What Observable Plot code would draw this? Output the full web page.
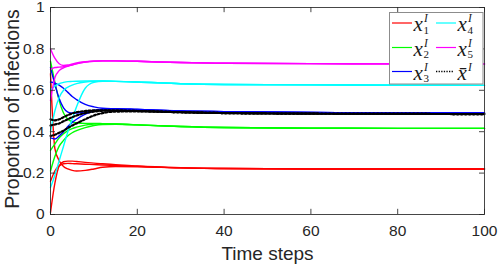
<!DOCTYPE html>
<html>
<head>
<meta charset="utf-8">
<script src="https://cdn.jsdelivr.net/npm/d3@7"></script>
<script src="https://cdn.jsdelivr.net/npm/@observablehq/plot@0.6"></script>
<style>
  html, body { margin: 0; padding: 0; background: #fff; }
  #wrap { position: relative; width: 499px; height: 265px; }
  #legend { position: absolute; left: 0; top: 0; pointer-events: none; }
</style>
</head>
<body>
<div id="wrap"></div>
<script>
// ---- data ----
const timeSteps = [0, 1, 2, 3, 4, 5, 6, 8, 10, 12, 15, 20, 30, 40, 60, 80, 100];

const red1 = [0.01, 0.15, 0.235, 0.255, 0.258, 0.258, 0.256, 0.252, 0.248, 0.245, 0.241, 0.234, 0.226, 0.222, 0.220, 0.220, 0.220];
const red2 = [0.68, 0.32, 0.26, 0.232, 0.220, 0.213, 0.210, 0.213, 0.220, 0.228, 0.232, 0.231, 0.225, 0.222, 0.220, 0.220, 0.220];
const red3 = [0.16, 0.21, 0.235, 0.245, 0.247, 0.246, 0.245, 0.243, 0.241, 0.239, 0.237, 0.233, 0.225, 0.222, 0.220, 0.220, 0.220];

const green1 = [0.74, 0.64, 0.55, 0.49, 0.46, 0.448, 0.442, 0.440, 0.440, 0.439, 0.437, 0.433, 0.425, 0.420, 0.417, 0.416, 0.416];
const green2 = [0.31, 0.34, 0.37, 0.39, 0.405, 0.415, 0.422, 0.432, 0.437, 0.439, 0.437, 0.433, 0.425, 0.420, 0.417, 0.416, 0.416];
const green3 = [0.21, 0.28, 0.33, 0.358, 0.38, 0.395, 0.405, 0.420, 0.430, 0.435, 0.436, 0.433, 0.425, 0.420, 0.417, 0.416, 0.416];

const blue1 = [0.71, 0.63, 0.56, 0.515, 0.495, 0.490, 0.490, 0.496, 0.503, 0.508, 0.510, 0.507, 0.500, 0.497, 0.493, 0.491, 0.490];
const blue2 = [0.64, 0.635, 0.625, 0.61, 0.59, 0.57, 0.555, 0.532, 0.520, 0.513, 0.511, 0.507, 0.500, 0.497, 0.493, 0.491, 0.490];
const blue3 = [0.37, 0.365, 0.38, 0.40, 0.425, 0.445, 0.460, 0.485, 0.500, 0.507, 0.510, 0.507, 0.500, 0.497, 0.493, 0.491, 0.490];

const cyan1 = [0.13, 0.19, 0.26, 0.33, 0.40, 0.46, 0.52, 0.61, 0.638, 0.643, 0.643, 0.640, 0.632, 0.628, 0.626, 0.625, 0.624];
const cyan2 = [0.40, 0.50, 0.565, 0.60, 0.615, 0.625, 0.632, 0.640, 0.644, 0.645, 0.643, 0.640, 0.632, 0.628, 0.626, 0.625, 0.624];
const cyan3 = [0.60, 0.62, 0.632, 0.638, 0.642, 0.643, 0.644, 0.645, 0.645, 0.645, 0.643, 0.640, 0.632, 0.628, 0.626, 0.625, 0.624];

const magenta1 = [0.80, 0.755, 0.728, 0.720, 0.722, 0.727, 0.732, 0.738, 0.741, 0.742, 0.742, 0.740, 0.734, 0.731, 0.729, 0.728, 0.727];
const magenta2 = [0.55, 0.66, 0.695, 0.708, 0.716, 0.722, 0.728, 0.736, 0.740, 0.742, 0.742, 0.740, 0.734, 0.731, 0.729, 0.728, 0.727];
const magenta3 = [0.70, 0.71, 0.712, 0.714, 0.718, 0.723, 0.729, 0.737, 0.741, 0.742, 0.742, 0.740, 0.734, 0.731, 0.729, 0.728, 0.727];

const mean1 = [0.46, 0.455, 0.46, 0.47, 0.48, 0.488, 0.494, 0.500, 0.503, 0.503, 0.502, 0.500, 0.494, 0.490, 0.487, 0.486, 0.485];
const mean2 = [0.43, 0.435, 0.44, 0.45, 0.46, 0.47, 0.478, 0.490, 0.497, 0.501, 0.502, 0.500, 0.494, 0.490, 0.487, 0.486, 0.485];
const mean3 = [0.38, 0.385, 0.395, 0.405, 0.418, 0.43, 0.44, 0.46, 0.478, 0.490, 0.497, 0.498, 0.494, 0.490, 0.487, 0.486, 0.485];

const seriesKeys = ["x1", "x2", "x3", "x4", "x5", "xbar"];
const seriesRuns = [
  [red1, red2, red3],
  [green1, green2, green3],
  [blue1, blue2, blue3],
  [cyan1, cyan2, cyan3],
  [magenta1, magenta2, magenta3],
  [mean1, mean2, mean3]
];
const seriesColors = ["#ff0000", "#00ff00", "#0000ff", "#00ffff", "#ff00ff", "#000000"];
const legendSubscripts = ["1", "2", "3", "4", "5", ""];

const xTicks = [0, 20, 40, 60, 80, 100];
const yTicks = [0, 0.2, 0.4, 0.6, 0.8, 1];
const yTickLabels = ["0", "0.2", "0.4", "0.6", "0.8", "1"];
const xLabel = "Time steps";
const yLabel = "Proportion of infections";

// ---- build tables ----
function runRows(si) {
  const rows = [];
  seriesRuns[si].forEach((vals, ri) => {
    vals.forEach((v, i) => rows.push({t: timeSteps[i], v, run: ri}));
  });
  return rows;
}

const axisColor = "#262626";
const lineMarks = seriesKeys.map((k, si) => Plot.line(runRows(si), {
  x: "t", y: "v", z: "run",
  stroke: seriesColors[si],
  strokeWidth: k === "xbar" ? 2.2 : 1.4,
  strokeDasharray: k === "xbar" ? "2,2" : null,
  curve: "monotone-x"
}));

const chart = Plot.plot({
  width: 499,
  height: 265,
  marginLeft: 50,
  marginRight: 15,
  marginTop: 7,
  marginBottom: 51,
  x: {domain: [0, 100]},
  y: {domain: [0, 1]},
  style: {fontFamily: "'Liberation Sans', Arial, sans-serif", color: axisColor, background: "white", overflow: "visible"},
  marks: [
    ...lineMarks,
    // inward ticks
    Plot.ruleX(xTicks, {x: d => d, y1: 0, y2: 0.025, stroke: axisColor, strokeOpacity: 0.85}),
    Plot.ruleX(xTicks, {x: d => d, y1: 0.975, y2: 1, stroke: axisColor, strokeOpacity: 0.85}),
    Plot.ruleY(yTicks, {y: d => d, x1: 0, x2: 1.15, stroke: axisColor, strokeOpacity: 0.85}),
    Plot.ruleY(yTicks, {y: d => d, x1: 98.85, x2: 100, stroke: axisColor, strokeOpacity: 0.85}),
    Plot.frame({stroke: axisColor, strokeOpacity: 0.85}),
    Plot.axisX(xTicks, {tickSize: 0, tickPadding: 10, fontSize: 15.5, label: null, fill: axisColor}),
    Plot.axisY(yTicks, {tickSize: 0, tickPadding: 6, fontSize: 15.5, label: null, fill: axisColor,
      tickFormat: (d) => yTickLabels[yTicks.indexOf(d)]}),
    Plot.text([xLabel], {frameAnchor: "bottom", dy: 39, fontSize: 19, fill: axisColor, lineAnchor: "middle", textAnchor: "middle"}),
    Plot.text([yLabel], {frameAnchor: "left", rotate: -90, dx: -38, dy: -2, fontSize: 19.5, fill: axisColor, lineAnchor: "middle", textAnchor: "middle"})
  ]
});

const wrap = document.getElementById("wrap");
wrap.appendChild(chart);

// ---- legend overlay ----
const lg = d3.select(wrap).append("svg")
  .attr("id", "legend").attr("width", 499).attr("height", 265);

lg.append("rect")
  .attr("x", 389.5).attr("y", 12.5).attr("width", 93.5).attr("height", 71.5)
  .attr("fill", "white").attr("stroke", "#8c8c8c").attr("stroke-width", 1);

const colX = [392, 436];
const rowY = [23, 47.5, 71.5];
seriesKeys.forEach((k, i) => {
  const col = Math.floor(i / 3), row = i % 3;
  const x0 = colX[col], y0 = rowY[row];
  const isMean = k === "xbar";
  lg.append("line")
    .attr("x1", x0).attr("x2", x0 + (isMean ? 18 : 20))
    .attr("y1", y0).attr("y2", y0)
    .attr("stroke", seriesColors[i])
    .attr("stroke-width", isMean ? 1.6 : 1.2)
    .attr("stroke-dasharray", isMean ? "1.3,1.3" : null);
  const tx = x0 + 21.5;
  const g = lg.append("g").attr("font-family", "'Liberation Serif', 'DejaVu Serif', serif").attr("fill", "#1a1a1a");
  g.append("text").attr("x", tx).attr("y", y0 + 8).attr("font-size", 21).attr("font-style", "italic")
    .text(isMean ? "x\u0304" : "x");
  g.append("text").attr("x", tx + 10.5).attr("y", y0 - 1).attr("font-size", 11.5).attr("font-style", "italic").text("I");
  if (legendSubscripts[i]) {
    g.append("text").attr("x", tx + 10).attr("y", y0 + 10.5).attr("font-size", 11).text(legendSubscripts[i]);
  }
});
</script>
</body>
</html>
